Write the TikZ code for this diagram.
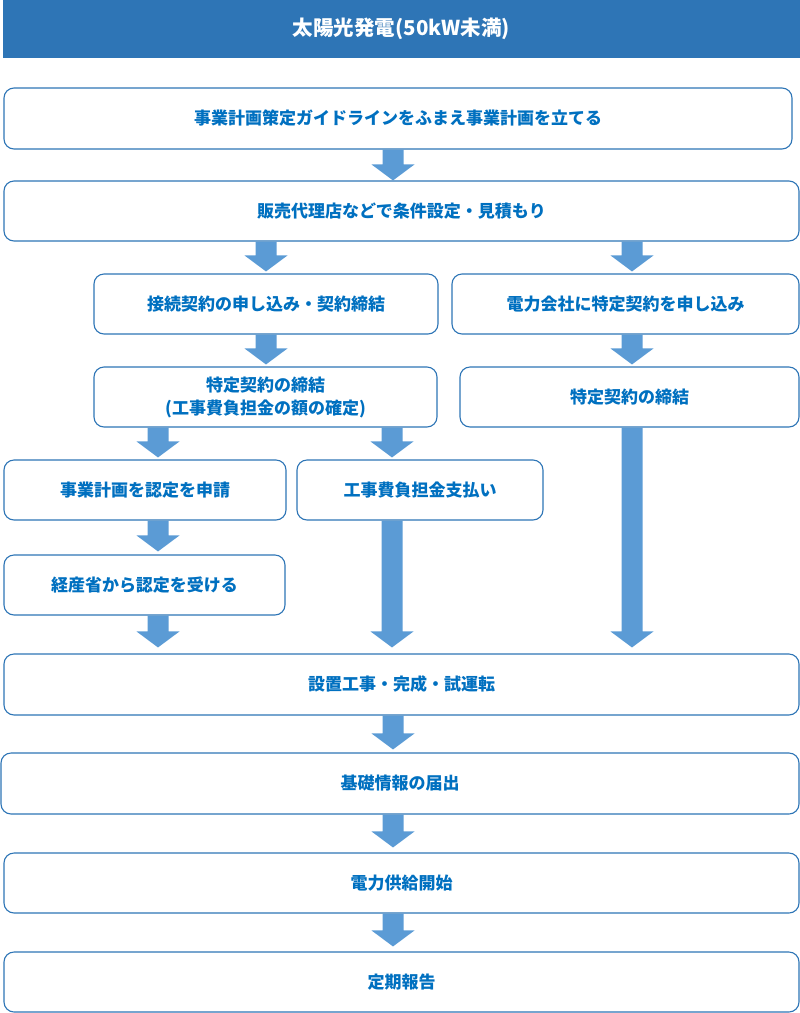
\documentclass[tikz,border=0pt]{standalone}
\usepackage{fontspec}
\setmainfont{Noto Sans CJK JP}
\usetikzlibrary{calc}
\definecolor{hdrc}{HTML}{2E75B6}
\definecolor{bordc}{HTML}{2E75B6}
\definecolor{arrowc}{HTML}{5B9BD5}
\definecolor{txtc}{HTML}{0070C0}
\tikzset{
  box/.style={draw=bordc, line width=1.1pt, rounded corners=10pt, fill=white,
    text=txtc, font=\bfseries\fontsize{17}{23}\selectfont, align=center,
    inner sep=0pt, minimum height=60pt},
  barrow/.style={fill=arrowc, to path={let \p1=(\tikztostart), \p2=(\tikztotarget) in
    (\x1-10.5pt,\y1) -- (\x1+10.5pt,\y1) -- (\x1+10.5pt,\y2+#1+16pt)
    -- (\x1+21.5pt,\y2+#1+16pt) -- (\x1,\y2+#1) -- (\x1-21.5pt,\y2+#1+16pt)
    -- (\x1-10.5pt,\y2+#1+16pt) -- cycle}},
  barrow/.default=3pt
}
\begin{document}
\begin{tikzpicture}[x=1pt,y=-1pt]
\useasboundingbox (0,0) rectangle (800,1013);
% header
\node[fill=hdrc, minimum width=797pt, minimum height=58pt, inner sep=0pt,
  text=white, font=\bfseries\fontsize{20.5}{24}\selectfont] (hdr) at (401.5,29) {太陽光発電(50kW未満)};
% boxes
\node[box, minimum width=788pt, minimum height=61pt] (b1) at (398,118.5) {事業計画策定ガイドラインをふまえ事業計画を立てる};
\node[box, minimum width=795pt] (b2) at (401.5,211) {販売代理店などで条件設定・見積もり};
\node[box, minimum width=344pt] (b3a) at (266,304) {接続契約の申し込み・契約締結};
\node[box, minimum width=347pt] (b3b) at (625.5,304) {電力会社に特定契約を申し込み};
\node[box, minimum width=343pt] (b4a) at (265.5,397) {特定契約の締結\\(工事費負担金の額の確定)};
\node[box, minimum width=339pt] (b4b) at (629.5,397) {特定契約の締結};
\node[box, minimum width=282pt] (b5a) at (145,490) {事業計画を認定を申請};
\node[box, minimum width=246pt] (b5b) at (420,490) {工事費負担金支払い};
\node[box, minimum width=281pt] (b6a) at (144.5,585) {経産省から認定を受ける};
\node[box, minimum width=795pt, minimum height=61pt] (b7) at (401.5,684.5) {設置工事・完成・試運転};
\node[box, minimum width=798pt, minimum height=61pt] (b8) at (400,783.5) {基礎情報の届出};
\node[box, minimum width=795pt] (b9) at (401.5,883) {電力供給開始};
\node[box, minimum width=795pt] (b10) at (401.5,982) {定期報告};
% arrow columns
\coordinate (cA) at (393,0);
\coordinate (cB) at (266,0);
\coordinate (cC) at (632,0);
\coordinate (cD) at (158,0);
\coordinate (cE) at (392,0);
% arrows
\path[barrow=0pt] (b1.south -| cA) to (b2.north -| cA);
\path[barrow=2pt] (b2.south -| cB) to (b3a.north -| cB);
\path[barrow=2pt] (b2.south -| cC) to (b3b.north -| cC);
\path[barrow=2pt] (b3a.south -| cB) to (b4a.north -| cB);
\path[barrow=2pt] (b3b.south -| cC) to (b4b.north -| cC);
\path[barrow=2pt] (b4a.south -| cD) to (b5a.north -| cD);
\path[barrow=2pt] (b4a.south -| cE) to (b5b.north -| cE);
\path[barrow=3pt] (b5a.south -| cD) to (b6a.north -| cD);
\path[barrow=6pt] (b6a.south -| cD) to (b7.north -| cD);
\path[barrow=6pt] (b5b.south -| cE) to (b7.north -| cE);
\path[barrow=6pt] (b4b.south -| cC) to (b7.north -| cC);
\path[barrow=3pt] (b7.south -| cA) to (b8.north -| cA);
\path[barrow=5pt] (b8.south -| cA) to (b9.north -| cA);
\path[barrow=5pt] (b9.south -| cA) to (b10.north -| cA);
\end{tikzpicture}
\end{document}
